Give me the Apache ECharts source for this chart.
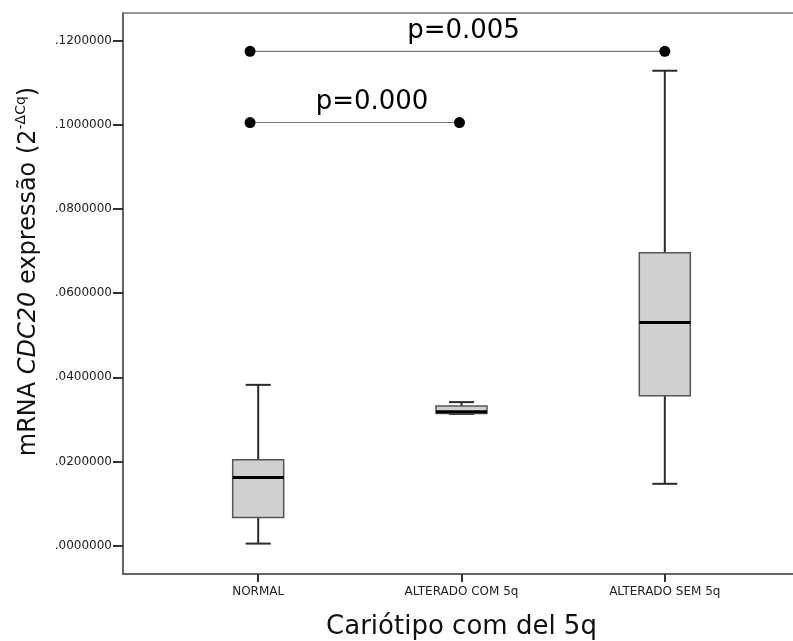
<!DOCTYPE html>
<html>
<head>
<meta charset="utf-8">
<script src="https://cdn.jsdelivr.net/npm/echarts@6/dist/echarts.min.js"></script>
<style>
  html, body { margin: 0; padding: 0; background: #fff; }
  #main { width: 793px; height: 641px; }
</style>
</head>
<body>
<div id="main"></div>
<script>
// categorias e posições no eixo x
var categories = ['NORMAL', 'ALTERADO COM 5q', 'ALTERADO SEM 5q'];
var catPos = [1, 2, 3];
// [min, Q1, mediana, Q3, max]
var boxNormal = [0.0005, 0.0067, 0.0162, 0.0204, 0.0382];
var boxCom = [0.0313, 0.0314, 0.0318, 0.0332, 0.0341];
var boxSem = [0.0147, 0.0356, 0.0530, 0.0696, 0.1128];
var yTicks = [0, 0.02, 0.04, 0.06, 0.08, 0.10, 0.12];
// comparações
var pLabels = ['p=0.000', 'p=0.005'];
var pLabelPos = [[1.56, 0.1052], [2.01, 0.1221]];
var bracketLow = [[0.96, 0.1005], [1.99, 0.1005]];
var bracketHigh = [[0.96, 0.1174], [3.0, 0.1174]];

var xMin = 0.335, xMax = 3.665;
var yMin = -0.00672, yMax = 0.12651;

var boxes = [boxNormal, boxCom, boxSem];
var boxData = catPos.map(function (x, i) { return [x].concat(boxes[i]); });

var chart = echarts.init(document.getElementById('main'));

function renderBox(params, api) {
  var x = api.value(0);
  var pMin = api.coord([x, api.value(1)]);
  var pQ1 = api.coord([x, api.value(2)]);
  var pMed = api.coord([x, api.value(3)]);
  var pQ3 = api.coord([x, api.value(4)]);
  var pMax = api.coord([x, api.value(5)]);
  var cx = pMed[0], bw = 51, cw = 25;
  var wStyle = { stroke: '#2a2a2a', lineWidth: 2 };
  return {
    type: 'group',
    children: [
      { type: 'line', shape: { x1: cx, y1: pMax[1], x2: cx, y2: pQ3[1] }, style: wStyle },
      { type: 'line', shape: { x1: cx, y1: pQ1[1], x2: cx, y2: pMin[1] }, style: wStyle },
      { type: 'line', shape: { x1: cx - cw / 2, y1: pMax[1], x2: cx + cw / 2, y2: pMax[1] }, style: wStyle },
      { type: 'line', shape: { x1: cx - cw / 2, y1: pMin[1], x2: cx + cw / 2, y2: pMin[1] }, style: wStyle },
      {
        type: 'rect',
        shape: { x: cx - bw / 2, y: pQ3[1], width: bw, height: pQ1[1] - pQ3[1] },
        style: { fill: '#d0d0d0', stroke: '#555', lineWidth: 1.5 }
      },
      { type: 'line', shape: { x1: cx - bw / 2, y1: pMed[1], x2: cx + bw / 2, y2: pMed[1] }, style: { stroke: '#000', lineWidth: 3 } }
    ]
  };
}

function bracket(data) {
  return {
    type: 'line',
    data: data,
    symbol: 'circle',
    symbolSize: 11,
    itemStyle: { color: '#000' },
    lineStyle: { color: '#777', width: 1.2 },
    silent: true,
    animation: false
  };
}

var option = {
  animation: false,
  grid: {
    left: 123, top: 13, width: 677, height: 561,
    outerBoundsMode: 'none',
    show: true, borderColor: '#777', borderWidth: 1.5
  },
  xAxis: {
    type: 'value',
    min: xMin, max: xMax,
    name: 'Cariótipo com del 5q',
    nameLocation: 'middle',
    nameGap: 40,
    nameTextStyle: { fontFamily: 'DejaVu Sans', fontSize: 26, color: '#111' },
    axisLine: { show: true, onZero: false, lineStyle: { color: '#555', width: 1.5 } },
    axisTick: { show: true, length: 8, customValues: catPos, lineStyle: { color: '#333', width: 2 } },
    axisLabel: {
      customValues: catPos,
      margin: 12,
      fontFamily: 'DejaVu Sans', fontSize: 12, color: '#222',
      formatter: function (v) { return categories[Math.round(v) - 1]; }
    },
    splitLine: { show: false }
  },
  yAxis: {
    type: 'value',
    min: yMin, max: yMax,
    name: '{n|mRNA }{i|CDC20}{n| expressão (2}{s|-ΔCq}{n|)}',
    nameLocation: 'middle',
    nameRotate: 90,
    nameGap: 79,
    nameTextStyle: {
      padding: [0, 0, 0, 44],
      rich: {
        n: { fontFamily: 'DejaVu Sans', fontSize: 24, color: '#111', lineHeight: 30 },
        i: { fontFamily: 'DejaVu Sans', fontStyle: 'italic', fontSize: 24, color: '#111', lineHeight: 30 },
        s: { fontFamily: 'DejaVu Sans', fontSize: 14, color: '#111', verticalAlign: 'top', lineHeight: 30, padding: [0, 0, 10, 0] }
      }
    },
    axisLine: { show: true, onZero: false, lineStyle: { color: '#555', width: 1.5 } },
    axisTick: { show: true, length: 10, customValues: yTicks, lineStyle: { color: '#333', width: 2 } },
    axisLabel: {
      customValues: yTicks,
      margin: 11,
      fontFamily: 'DejaVu Sans', fontSize: 12, color: '#222',
      formatter: function (v) { return v.toFixed(7).replace(/^0/, ''); }
    },
    splitLine: { show: false }
  },
  series: [
    {
      type: 'custom',
      renderItem: renderBox,
      data: boxData,
      encode: { x: 0, y: [1, 2, 3, 4, 5] },
      silent: true
    },
    bracket(bracketLow),
    bracket(bracketHigh),
    {
      type: 'scatter',
      symbolSize: 0,
      data: pLabelPos,
      silent: true,
      itemStyle: { opacity: 1 },
      label: {
        show: true,
        position: 'inside',
        fontFamily: 'DejaVu Sans',
        fontSize: 26,
        color: '#000',
        formatter: function (p) { return pLabels[p.dataIndex]; }
      }
    }
  ]
};

chart.setOption(option);
</script>
</body>
</html>
